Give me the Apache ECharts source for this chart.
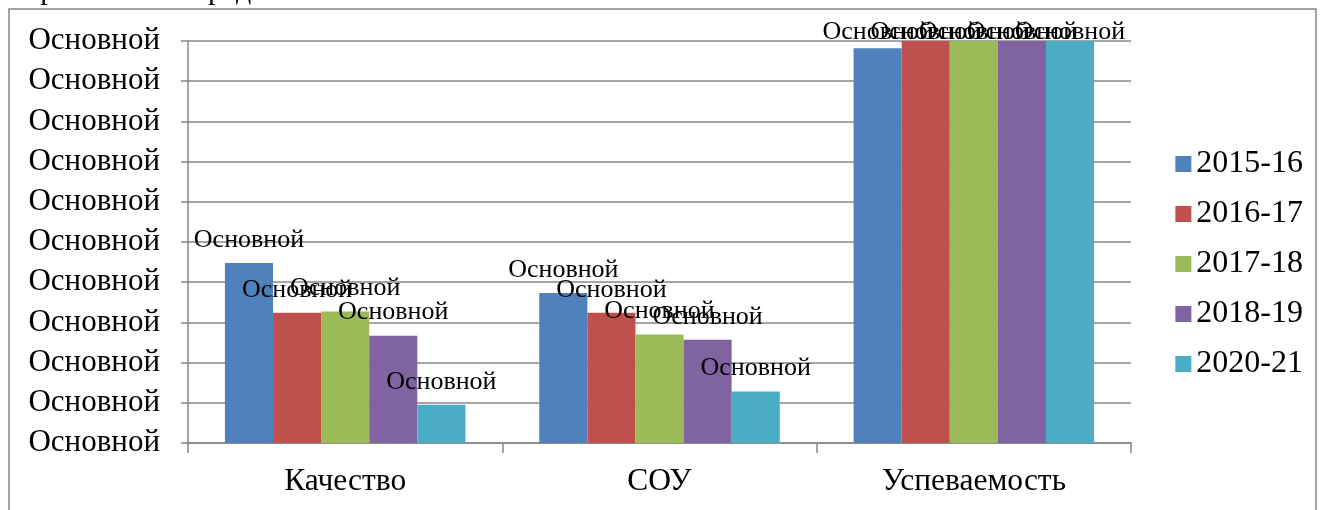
<!DOCTYPE html>
<html>
<head>
<meta charset="utf-8">
<script src="https://cdn.jsdelivr.net/npm/echarts@6/dist/echarts.min.js"></script>
<style>
  html, body { margin: 0; padding: 0; background: #fff; }
  #container { width: 1320px; height: 510px; }
</style>
</head>
<body>
<div id="container"></div>
<script>
// данные
var categories = ['Качество', 'СОУ', 'Успеваемость'];
var years = ['2015-16', '2016-17', '2017-18', '2018-19', '2020-21'];
var v2015 = [44.8, 37.3, 98.2];
var v2016 = [32.4, 32.4, 100];
var v2017 = [32.7, 27.0, 100];
var v2018 = [26.7, 25.7, 100];
var v2020 = [9.5, 12.8, 100];
var yTicks = [0, 10, 20, 30, 40, 50, 60, 70, 80, 90, 100];
var tickLabel = 'Основной';

var colors = ['#4F81BD', '#C0504D', '#9BBB59', '#8064A2', '#4BACC6'];
var font = 'Liberation Serif';

var dom = document.getElementById('container');
var myChart = echarts.init(dom, null, {renderer: 'canvas'});

function makeSeries(name, data) {
  return {
    name: name,
    type: 'bar',
    data: data,
    barGap: '0%',
    barCategoryGap: '23.5%',
    label: {
      show: true,
      position: 'top',
      distance: 10,
      formatter: function () { return tickLabel; },
      color: '#000',
      fontFamily: font,
      fontSize: 26
    },
    labelLayout: function (p) {
      // подписи не выходят за верх области
      var r = p.labelRect;
      if (r && r.y < 19) {
        return { dy: 19 - r.y };
      }
      return {};
    }
  };
}

var option = {
  color: colors,
  animation: false,
  textStyle: { fontFamily: font },
  graphic: [
    {
      type: 'text',
      left: 0,
      top: -24,
      style: {
        text: 'Выравнивание средовальния.',
        font: "30px 'Liberation Serif'",
        fill: '#000'
      }
    },
    {
      type: 'rect',
      shape: { x: 9, y: 9, width: 1307, height: 520 },
      style: { fill: 'none', stroke: '#878787', lineWidth: 1.5 },
      z: -1
    }
  ],
  legend: {
    orient: 'vertical',
    right: 12,
    top: 143,
    itemWidth: 16,
    itemHeight: 16,
    itemGap: 18,
    icon: 'rect',
    textStyle: { fontFamily: font, fontSize: 32, color: '#000' },
    data: years
  },
  grid: {
    left: 188,
    right: 189,
    top: 41,
    bottom: 67
  },
  xAxis: {
    type: 'category',
    data: categories,
    axisLine: { lineStyle: { color: '#878787', width: 1.5 } },
    axisTick: { show: true, length: 10, lineStyle: { color: '#878787', width: 1.5 } },
    axisLabel: { margin: 23, fontFamily: font, fontSize: 31.5, color: '#000' }
  },
  yAxis: {
    type: 'value',
    min: yTicks[0],
    max: yTicks[yTicks.length - 1],
    interval: 10,
    axisLine: { show: true, lineStyle: { color: '#878787', width: 1.5 } },
    axisTick: { show: true, length: 7, lineStyle: { color: '#878787', width: 1.5 } },
    splitLine: { lineStyle: { color: '#878787', width: 1.5 } },
    axisLabel: {
      margin: 28,
      fontFamily: font,
      fontSize: 31,
      color: '#000',
      formatter: function () { return tickLabel; }
    }
  },
  series: [
    makeSeries(years[0], v2015),
    makeSeries(years[1], v2016),
    makeSeries(years[2], v2017),
    makeSeries(years[3], v2018),
    makeSeries(years[4], v2020)
  ]
};

if (option && typeof option === 'object') {
  myChart.setOption(option, true);
}
</script>
</body>
</html>
